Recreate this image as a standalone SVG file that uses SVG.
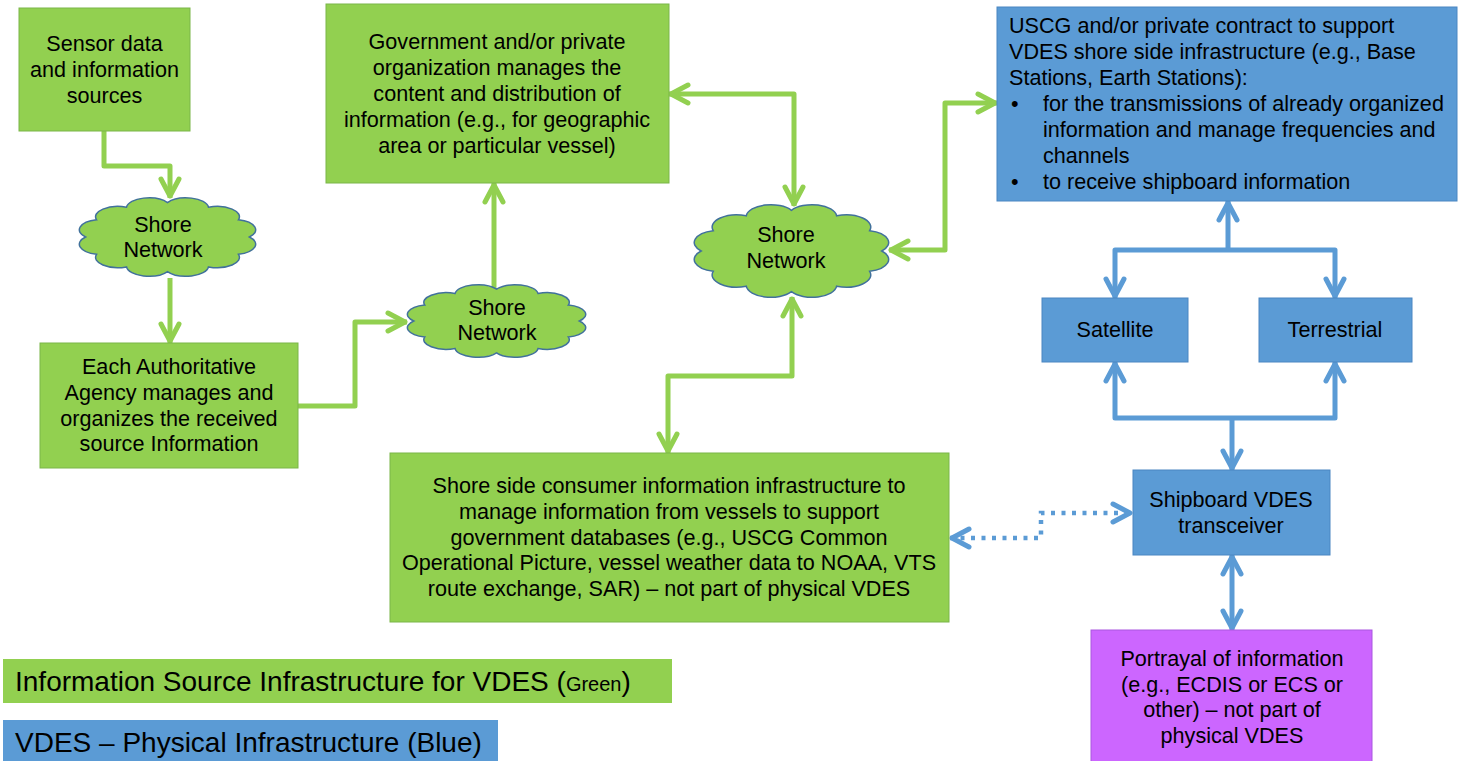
<svg xmlns="http://www.w3.org/2000/svg" width="1466" height="761" viewBox="0 0 1466 761">
<style>
.t{font-family:"Liberation Sans",Arial,sans-serif;font-size:21.6px;fill:#000}
.c{text-anchor:middle}
.g{fill:#92D050;stroke:#7AB648;stroke-width:1}
.b{fill:#5B9BD5;stroke:#4A86C2;stroke-width:1}
.p{fill:#CC66FF;stroke:#A957E0;stroke-width:1}
.cl{fill:#92D050;stroke:#41719C;stroke-width:1.5}
.ga{fill:none;stroke:#92D050;stroke-width:5;stroke-linejoin:round}
.ba{fill:none;stroke:#5B9BD5;stroke-width:5;stroke-linejoin:round}
.bd{fill:none;stroke:#5B9BD5;stroke-width:4.5;stroke-dasharray:4 6.5}
</style>
<defs>
<marker id="mg" markerUnits="userSpaceOnUse" viewBox="-24 -14 30 28" markerWidth="30" markerHeight="28" refX="2" refY="0" orient="auto-start-reverse" overflow="visible">
<path d="M-17 -9 L0 0 L-17 9" fill="none" stroke="#92D050" stroke-width="5" stroke-linecap="round" stroke-linejoin="round"/>
</marker>
<marker id="mb" markerUnits="userSpaceOnUse" viewBox="-24 -14 30 28" markerWidth="30" markerHeight="28" refX="2" refY="0" orient="auto-start-reverse" overflow="visible">
<path d="M-17 -9 L0 0 L-17 9" fill="none" stroke="#5B9BD5" stroke-width="5" stroke-linecap="round" stroke-linejoin="round"/>
</marker>
<path id="cloud" vector-effect="non-scaling-stroke" d="M6 50 A12 12 0 0 1 11.9 30 A12 12 0 0 1 28 15.4 A12 12 0 0 1 50 10 A12 12 0 0 1 72 15.4 A12 12 0 0 1 88.1 30 A12 12 0 0 1 94 50 A12 12 0 0 1 88.1 70 A12 12 0 0 1 72 84.6 A12 12 0 0 1 50 90 A12 12 0 0 1 28 84.6 A12 12 0 0 1 11.9 70 A12 12 0 0 1 6 50 Z"/>
</defs>

<g id="connectors">
<path class="ga" d="M104 131 V166 H170 V198" marker-end="url(#mg)"/>
<path class="ga" d="M170 278 V343" marker-end="url(#mg)"/>
<path class="ga" d="M298 406 H355 V322 H407" marker-end="url(#mg)"/>
<path class="ga" d="M494 289 V183" marker-end="url(#mg)"/>
<path class="ga" d="M669 94 H794 V206" marker-start="url(#mg)" marker-end="url(#mg)"/>
<path class="ga" d="M889 250 H945 V103 H997" marker-start="url(#mg)" marker-end="url(#mg)"/>
<path class="ga" d="M792 297 V376 H668 V453" marker-start="url(#mg)" marker-end="url(#mg)"/>
<path class="ba" d="M1228 250 V201" marker-end="url(#mb)"/>
<path class="ba" d="M1115 298 V250 H1335 V298" marker-start="url(#mb)" marker-end="url(#mb)"/>
<path class="ba" d="M1115 362 V418 H1335 V362" marker-start="url(#mb)" marker-end="url(#mb)"/>
<path class="ba" d="M1232 418 V470" marker-end="url(#mb)"/>
<path class="ba" d="M1232 555 V630" marker-start="url(#mb)" marker-end="url(#mb)"/>
<path class="bd" d="M950 538 H1041 V513 H1132" marker-start="url(#mb)" marker-end="url(#mb)"/>
</g>

<g id="sensor">
<rect class="g" x="19" y="8" width="171" height="123"/>
<text class="t c" x="104.5" y="51">Sensor data</text>
<text class="t c" x="104.5" y="77">and information</text>
<text class="t c" x="104.5" y="103">sources</text>
</g>

<g id="cloud1">
<use href="#cloud" class="cl" transform="translate(74.4 193.9) scale(1.862 0.863)"/>
<text class="t c" x="163" y="232">Shore</text>
<text class="t c" x="163" y="257">Network</text>
</g>

<g id="agency">
<rect class="g" x="40" y="343" width="258" height="125"/>
<text class="t c" x="169" y="374">Each Authoritative</text>
<text class="t c" x="169" y="400">Agency manages and</text>
<text class="t c" x="169" y="426">organizes the received</text>
<text class="t c" x="169" y="451">source Information</text>
</g>

<g id="cloud2">
<use href="#cloud" class="cl" transform="translate(402.4 281.2) scale(1.883 0.796)"/>
<text class="t c" x="497" y="315">Shore</text>
<text class="t c" x="497" y="340">Network</text>
</g>

<g id="govorg">
<rect class="g" x="326" y="4" width="343" height="179"/>
<text class="t c" x="497" y="49">Government and/or private</text>
<text class="t c" x="497" y="75">organization manages the</text>
<text class="t c" x="497" y="101">content and distribution of</text>
<text class="t c" x="497" y="127">information (e.g., for geographic</text>
<text class="t c" x="497" y="153">area or particular vessel)</text>
</g>

<g id="cloud3">
<use href="#cloud" class="cl" transform="translate(688.8 200.1) scale(2.053 1.018)"/>
<text class="t c" x="786" y="242">Shore</text>
<text class="t c" x="786" y="268">Network</text>
</g>

<g id="consumer">
<rect class="g" x="390" y="453" width="559" height="169"/>
<text class="t c" x="669" y="493">Shore side consumer information infrastructure to</text>
<text class="t c" x="669" y="519">manage information from vessels to support</text>
<text class="t c" x="669" y="545">government databases (e.g., USCG Common</text>
<text class="t c" x="669" y="570">Operational Picture, vessel weather data to NOAA, VTS</text>
<text class="t c" x="669" y="596">route exchange, SAR) – not part of physical VDES</text>
</g>

<g id="uscg">
<rect class="b" x="997" y="7" width="460" height="194"/>
<text class="t" x="1009" y="33">USCG and/or private contract to support</text>
<text class="t" x="1009" y="59">VDES shore side infrastructure (e.g., Base</text>
<text class="t" x="1009" y="85">Stations, Earth Stations):</text>
<text class="t" x="1011" y="111">•</text>
<text class="t" x="1043" y="111">for the transmissions of already organized</text>
<text class="t" x="1043" y="137">information and manage frequencies and</text>
<text class="t" x="1043" y="163">channels</text>
<text class="t" x="1011" y="189">•</text>
<text class="t" x="1043" y="189">to receive shipboard information</text>
</g>

<g id="satellite">
<rect class="b" x="1042" y="298" width="146" height="64"/>
<text class="t c" x="1115" y="337">Satellite</text>
</g>

<g id="terrestrial">
<rect class="b" x="1259" y="298" width="153" height="64"/>
<text class="t c" x="1335" y="337">Terrestrial</text>
</g>

<g id="shipboard">
<rect class="b" x="1133" y="470" width="197" height="85"/>
<text class="t c" x="1231" y="507">Shipboard VDES</text>
<text class="t c" x="1231" y="533">transceiver</text>
</g>

<g id="portrayal">
<rect class="p" x="1091" y="630" width="281" height="135"/>
<text class="t c" x="1232" y="666">Portrayal of information</text>
<text class="t c" x="1232" y="692">(e.g., ECDIS or ECS or</text>
<text class="t c" x="1232" y="717">other) – not part of</text>
<text class="t c" x="1232" y="743">physical VDES</text>
</g>

<g id="legend-green">
<rect x="3" y="659" width="669" height="44" fill="#92D050"/>
<text class="t" x="15" y="691" style="font-size:28px">Information Source Infrastructure for VDES (<tspan style="font-size:20px">Green</tspan>)</text>
</g>

<g id="legend-blue">
<rect x="3" y="720" width="495" height="41" fill="#5B9BD5"/>
<text class="t" x="15" y="752" style="font-size:28px">VDES – Physical Infrastructure (Blue)</text>
</g>
</svg>
